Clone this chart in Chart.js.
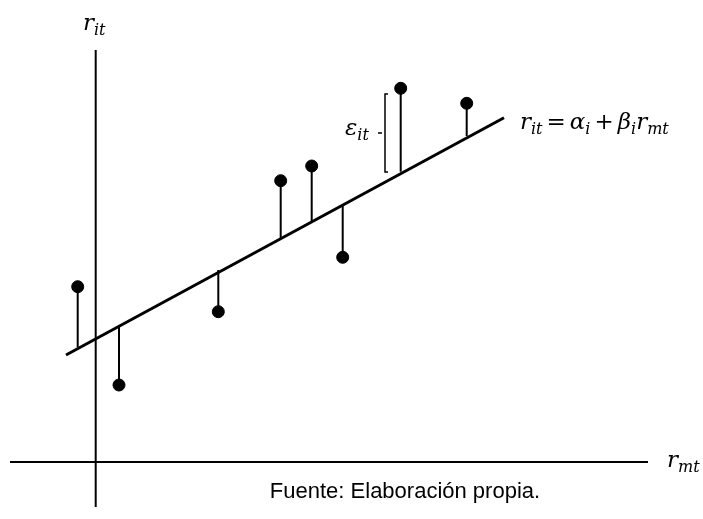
<!DOCTYPE html>
<html>
<head>
<meta charset="utf-8">
<script src="https://cdn.jsdelivr.net/npm/chart.js@4"></script>
<style>
  body { margin: 0; background: white; }
  canvas { display: block; }
</style>
</head>
<body>
<canvas id="capm" width="703" height="519"></canvas>
<script>
const rmt = [-1.80, 2.33, 12.26, 18.50, 21.60, 24.70, 30.50, 37.10]
const rit = [17.53, 7.70, 15.03, 28.13, 29.60, 20.47, 37.37, 35.87]
// value on the fitted line under each point (where the stems end)
const fitted = [11.47, 13.70, 19.20, 22.37, 24.10, 25.70, 29.03, 32.60]

// regression line r_it = alpha_i + beta_i r_mt
const lineX = [-2.97, 40.83]
const lineY = [10.70, 34.43]

// axes extents
const xAxisSpan = [-8.57, 55.23]
const yAxisSpan = [-4.50, 41.20]

// epsilon bracket: x, top, bottom, middle tick
const bracketX = 28.93
const bracketTop = 36.8
const bracketBottom = 29.0
const bracketMid = 32.9

function stemPoints() {
  let pts = []
  rmt.forEach((x, i) => {
    pts.push({x: x, y: rit[i]})
    pts.push({x: x, y: fitted[i]})
    pts.push({x: x, y: null})
  })
  return pts
}

// draws a math-like label: main italic text followed by a subscript
function mathText(ctx, parts, x, y) {
  parts.forEach(p => {
    let size = p.sub ? 16 : 23
    ctx.font = `italic ${size}px "DejaVu Serif"`
    if (p.upright) ctx.font = `${size}px "DejaVu Serif"`
    let dy = p.sub ? 5 : 0
    ctx.fillText(p.t, x, y + dy)
    x += ctx.measureText(p.t).width + (p.gap || 0)
  })
}

const labels = {
  id: "labels",
  afterDraw(chart) {
    let ctx = chart.ctx
    ctx.save()
    ctx.fillStyle = "black"
    ctx.textBaseline = "alphabetic"
    mathText(ctx, [{t: "r"}, {t: "it", sub: true}], 83, 30)
    mathText(ctx, [{t: "r"}, {t: "mt", sub: true}], 667, 467)
    mathText(ctx, [{t: "ε"}, {t: "it", sub: true}], 345, 135)
    mathText(ctx, [
      {t: "r"}, {t: "it", sub: true, gap: 4},
      {t: "=", upright: true, gap: 4},
      {t: "α"}, {t: "i", sub: true, gap: 4},
      {t: "+", upright: true, gap: 4},
      {t: "β"}, {t: "i", sub: true},
      {t: "r"}, {t: "mt", sub: true}
    ], 520, 129)
    ctx.font = '22px "Liberation Sans"'
    ctx.textAlign = "center"
    ctx.fillText("Fuente: Elaboración propia.", 405, 498)
    ctx.restore()
  }
}

let ctx = document.getElementById("capm")
let chart = new Chart(ctx, {
  type: 'scatter',
  data: {
    datasets: [
      {
        label: "observations",
        data: rmt.map((x, i) => ({x: x, y: rit[i]})),
        backgroundColor: "black",
        borderColor: "black",
        pointRadius: 6,
        showLine: false
      },
      {
        label: "residuals",
        data: stemPoints(),
        borderColor: "black",
        borderWidth: 2,
        pointRadius: 0,
        showLine: true,
        spanGaps: false
      },
      {
        label: "fit",
        data: lineX.map((x, i) => ({x: x, y: lineY[i]})),
        borderColor: "black",
        borderWidth: 3,
        pointRadius: 0,
        showLine: true
      },
      {
        label: "bracket",
        data: [
          {x: bracketX + 0.3, y: bracketTop},
          {x: bracketX, y: bracketTop},
          {x: bracketX, y: bracketBottom},
          {x: bracketX + 0.3, y: bracketBottom},
          {x: bracketX, y: null},
          {x: bracketX - 0.7, y: bracketMid},
          {x: bracketX - 0.3, y: bracketMid}
        ],
        borderColor: "black",
        borderWidth: 1.5,
        pointRadius: 0,
        showLine: true,
        spanGaps: false
      },
      {
        label: "x axis",
        data: xAxisSpan.map(x => ({x: x, y: 0})),
        borderColor: "black",
        borderWidth: 2,
        pointRadius: 0,
        showLine: true
      },
      {
        label: "y axis",
        data: yAxisSpan.map(y => ({x: 0, y: y})),
        borderColor: "black",
        borderWidth: 2,
        pointRadius: 0,
        showLine: true
      }
    ]
  },
  options: {
    responsive: false,
    animation: false,
    devicePixelRatio: 1,
    layout: { padding: 0, autoPadding: false },
    plugins: {
      legend: { display: false },
      tooltip: { enabled: false }
    },
    scales: {
      x: { type: 'linear', display: false, min: -9.57, max: 60.73 },
      y: { type: 'linear', display: false, min: -5.7, max: 46.2 }
    }
  },
  plugins: [labels]
})
</script>
</body>
</html>
